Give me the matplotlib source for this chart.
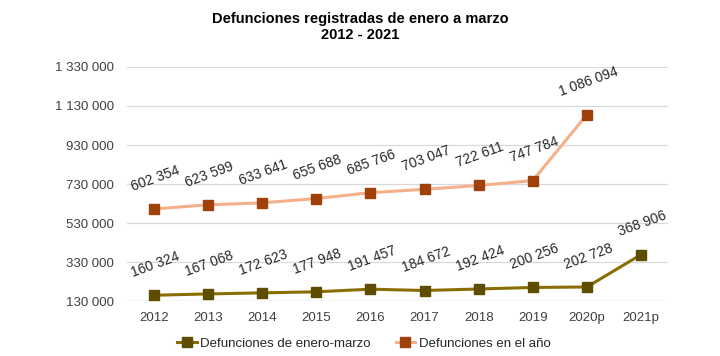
import matplotlib
matplotlib.use("Agg")
import matplotlib.pyplot as plt

plt.rcParams['font.family'] = ['Liberation Sans', 'DejaVu Sans']

years = ["2012", "2013", "2014", "2015", "2016", "2017", "2018", "2019", "2020p", "2021p"]
enero_marzo = [160324, 167068, 172623, 177948, 191457, 184672, 192424, 200256, 202728, 368906]
anual = [602354, 623599, 633641, 655688, 685766, 703047, 722611, 747784, 1086094, None]
yticks = [130000, 330000, 530000, 730000, 930000, 1130000, 1330000]

def fmt(v):
    return f"{v:,}".replace(",", " ")

fig = plt.figure(figsize=(7.2, 3.56), dpi=100)
ax = fig.add_axes([0.176, 0.154, 0.752, 0.658])

x = list(range(len(years)))
ax.plot(x, enero_marzo, color="#8a6d00", lw=2.2, marker="s", ms=6.5,
        mfc="#5e4c00", mec="#5e4c00", label="Defunciones de enero-marzo", zorder=3)
xa = [i for i, v in zip(x, anual) if v is not None]
ya = [v for v in anual if v is not None]
ax.plot(xa, ya, color="#f4b08a", lw=2.2, marker="s", ms=6.5,
        mfc="#a0410c", mec="#a0410c", label="Defunciones en el año", zorder=3)

for i, v in enumerate(enero_marzo):
    ax.annotate(fmt(v), (i, v), xytext=(1, 11), textcoords="offset points",
                ha="center", va="bottom", rotation=20, fontsize=10, color="#262626")
for i, v in zip(xa, ya):
    ax.annotate(fmt(v), (i, v), xytext=(1, 11), textcoords="offset points",
                ha="center", va="bottom", rotation=20, fontsize=10, color="#262626")

ax.set_xlim(-0.5, len(years) - 0.5)
ax.set_ylim(130000, 1330000)
ax.set_yticks(yticks)
ax.set_yticklabels([fmt(t) for t in yticks], fontsize=9.5, color="#404040")
ax.set_xticks(x)
ax.set_xticklabels(years, fontsize=9.5, color="#404040")
ax.tick_params(length=0, pad=8)
ax.tick_params(axis="y", pad=9)
ax.grid(axis="y", color="#d9d9d9", lw=0.9)
ax.set_axisbelow(True)
for s in ax.spines.values():
    s.set_visible(False)
ax.axhline(130000, color="#d9d9d9", lw=0.9, zorder=0)

fig.suptitle("Defunciones registradas de enero a marzo\n2012 - 2021", y=0.965,
             fontsize=10.5, fontweight="bold", x=0.5, linespacing=1.15)

fig.legend(*ax.get_legend_handles_labels(), loc="center", bbox_to_anchor=(0.505, 0.035),
           ncol=2, frameon=False, fontsize=9.5, handlelength=1.5, handletextpad=0.25,
           columnspacing=1.9, labelcolor="#262626")

fig.savefig("out.png", dpi=100)
